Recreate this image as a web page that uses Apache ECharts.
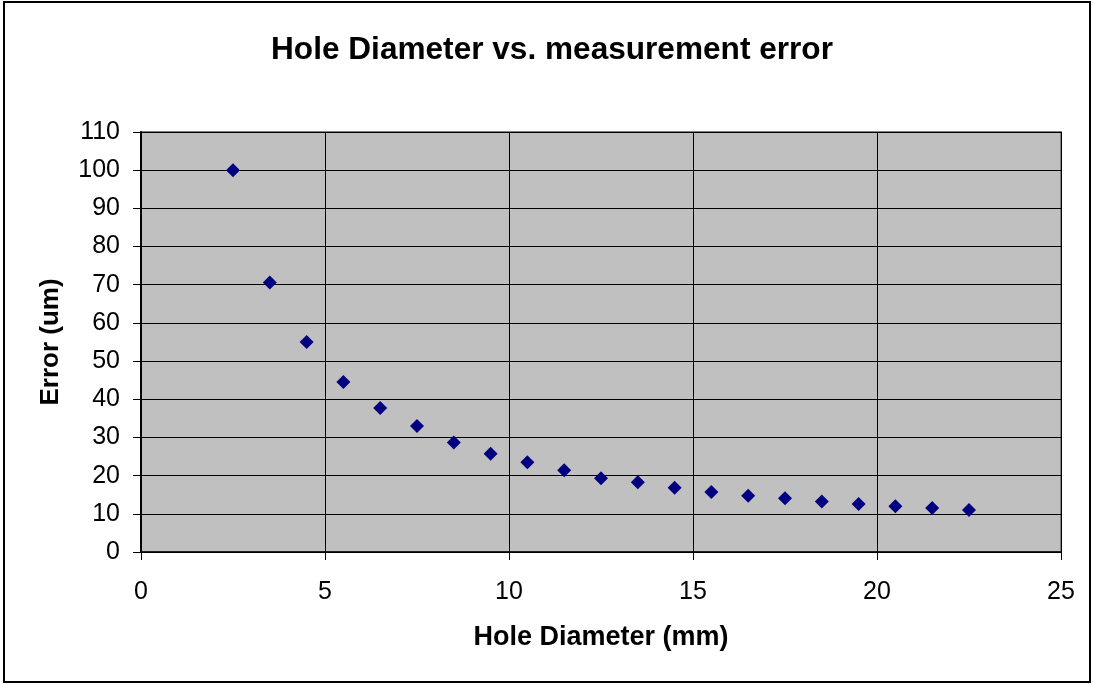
<!DOCTYPE html>
<html>
<head>
<meta charset="utf-8">
<title>Hole Diameter vs. measurement error</title>
<script src="https://cdn.jsdelivr.net/npm/echarts@6/dist/echarts.min.js"></script>
<style>
  html, body { margin: 0; padding: 0; background: #fff; }
  #chart { width: 1094px; height: 684px; }
</style>
</head>
<body>
<div id="chart"></div>
<script>
// hole diameter (mm) and the measured error (um)
const diameters = [2.5, 3.5, 4.5, 5.5, 6.5, 7.5, 8.5, 9.5, 10.5, 11.5, 12.5,
  13.5, 14.5, 15.5, 16.5, 17.5, 18.5, 19.5, 20.5, 21.5, 22.5];
const errors = [100, 70.6, 55, 44.5, 37.7, 33, 28.7, 25.7, 23.5, 21.4, 19.3,
  18.3, 16.8, 15.7, 14.7, 14.1, 13.2, 12.6, 12, 11.5, 11];

const FONT = "'Liberation Sans', Arial, sans-serif";

const chart = echarts.init(document.getElementById("chart"));

const option = {
  backgroundColor: "#fff",
  animation: false,
  title: {
    text: "Hole Diameter vs. measurement error",
    left: 547,
    textAlign: "center",
    top: 29,
    textStyle: { fontFamily: FONT, fontSize: 31.6, fontWeight: "bold", color: "#000" },
  },
  graphic: [
    {
      type: "rect",
      shape: { x: 4, y: 2, width: 1086, height: 680 },
      style: { fill: "none", stroke: "#000", lineWidth: 2 },
      silent: true,
    },
  ],
  grid: {
    left: 141,
    right: 33,
    top: 132,
    bottom: 132,
    show: true,
    backgroundColor: "#c0c0c0",
    borderColor: "#808080",
    borderWidth: 2,
  },
  xAxis: {
    type: "value",
    min: 0,
    max: 25,
    interval: 5,
    name: "Hole Diameter (mm)",
    nameLocation: "middle",
    nameGap: 72,
    nameTextStyle: { fontFamily: FONT, fontSize: 27, fontWeight: "bold", color: "#000" },
    axisLine: { show: true, lineStyle: { color: "#000", width: 1.5 } },
    axisTick: { show: true, length: 8, lineStyle: { color: "#000" } },
    axisLabel: { fontFamily: FONT, fontSize: 25, color: "#000", margin: 28 },
    splitLine: { show: true, lineStyle: { color: "#000", width: 1 } },
  },
  yAxis: {
    type: "value",
    min: 0,
    max: 110,
    interval: 10,
    name: "Error (um)",
    nameLocation: "middle",
    nameGap: 77,
    nameTextStyle: { fontFamily: FONT, fontSize: 26, fontWeight: "bold", color: "#000" },
    axisLine: { show: true, lineStyle: { color: "#000", width: 2 } },
    axisTick: { show: true, length: 8, lineStyle: { color: "#000" } },
    axisLabel: { fontFamily: FONT, fontSize: 25, color: "#000", margin: 21 },
    splitLine: { show: true, lineStyle: { color: "#000", width: 1 } },
  },
  series: [
    {
      type: "scatter",
      symbol: "diamond",
      symbolSize: 14,
      itemStyle: { color: "#000080", opacity: 1 },
      data: diameters.map((d, i) => [d, errors[i]]),
    },
  ],
};

chart.setOption(option);
</script>
</body>
</html>
